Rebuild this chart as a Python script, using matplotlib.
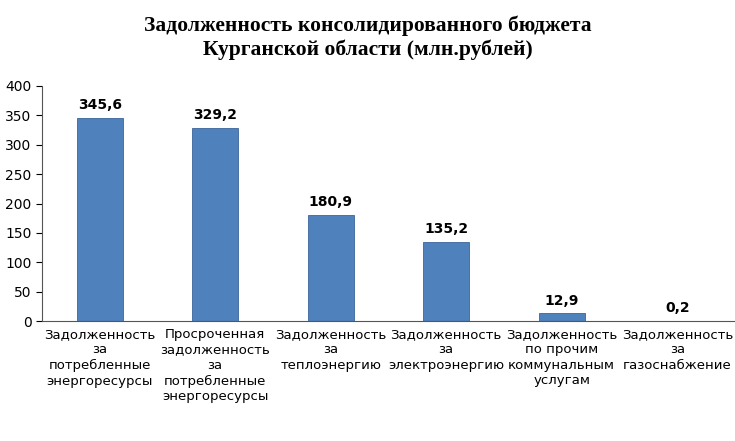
import matplotlib.pyplot as plt
import numpy as np

# Данные
categories = [
    "Задолженность\nза\nпотребленные\nэнергоресурсы",
    "Просроченная\nзадолженность\nза\nпотребленные\nэнергоресурсы",
    "Задолженность\nза\nтеплоэнергию",
    "Задолженность\nза\nэлектроэнергию",
    "Задолженность\nпо прочим\nкоммунальным\nуслугам",
    "Задолженность\nза\nгазоснабжение",
]
values = [345.6, 329.2, 180.9, 135.2, 12.9, 0.2]
value_labels = ["345,6", "329,2", "180,9", "135,2", "12,9", "0,2"]
yticks = [0, 50, 100, 150, 200, 250, 300, 350, 400]

fig = plt.figure(figsize=(7.35, 4.41), dpi=100, facecolor="white")
ax = fig.add_axes([0.057, 0.272, 0.943, 0.533])

x = np.arange(len(categories))
ax.bar(x, values, width=0.4, color="#4F81BD", edgecolor="#3A6699", linewidth=0.6)

for xi, v, lab in zip(x, values, value_labels):
    ax.text(xi, v + 10, lab, ha="center", va="bottom", fontsize=10, fontweight="bold")

ax.set_xlim(-0.5, len(categories) - 0.5)
ax.set_ylim(0, 400)
ax.set_yticks(yticks)
ax.tick_params(axis="y", labelsize=10, length=4)
ax.set_xticks(x)
ax.set_xticklabels(categories, fontsize=9.5, linespacing=1.25)
ax.tick_params(axis="x", length=0, pad=5)
ax.spines["top"].set_visible(False)
ax.spines["right"].set_visible(False)
ax.spines["left"].set_color("#555555")
ax.spines["bottom"].set_color("#555555")

fig.text(0.5, 0.965, "Задолженность консолидированного бюджета\nКурганской области (млн.рублей)",
         ha="center", va="top", fontsize=15.5, fontweight="bold",
         family="Liberation Serif", linespacing=1.25)

fig.savefig("out.png", dpi=100, facecolor="white")
